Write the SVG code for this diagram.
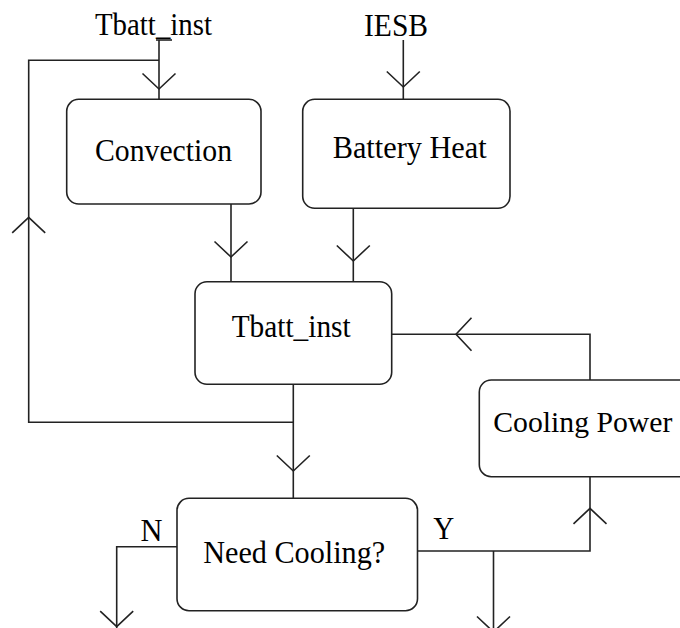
<svg xmlns="http://www.w3.org/2000/svg" xmlns:xlink="http://www.w3.org/1999/xlink" width="680" height="628" viewBox="0 0 680 628">
<style>
  .box { fill: #ffffff; stroke: #222222; stroke-width: 1.6; }
  .wire { fill: none; stroke: #222222; stroke-width: 1.6; }
  .lbl { font-family: 'Liberation Serif', 'DejaVu Serif', serif; font-size: 32px; fill: #000000; }
</style>
<defs>
  <path id="ah" d="M-16.5,-15.5 L0,0 L16.5,-15.5" fill="none" stroke="#222222" stroke-width="1.6"/>
</defs>
<rect width="680" height="628" fill="#ffffff"/>

<g id="connectors">
  <path class="wire" d="M156,40 H172"/>
  <path class="wire" d="M159,40 V99.3"/>
  <use xlink:href="#ah" href="#ah" transform="translate(159,89)"/>
  <path class="wire" d="M293.3,422.3 H28.7 V60.3 H159"/>
  <use xlink:href="#ah" href="#ah" transform="translate(28.7,217.3) rotate(180)"/>
  <path class="wire" d="M403.3,40 V99.3"/>
  <use xlink:href="#ah" href="#ah" transform="translate(403.3,87)"/>
  <path class="wire" d="M231,204 V281.7"/>
  <use xlink:href="#ah" href="#ah" transform="translate(231,257)"/>
  <path class="wire" d="M353.3,208.3 V281.7"/>
  <use xlink:href="#ah" href="#ah" transform="translate(353.3,261)"/>
  <path class="wire" d="M293.3,384.3 V498.3"/>
  <use xlink:href="#ah" href="#ah" transform="translate(293.3,471)"/>
  <path class="wire" d="M590,380 V334.3 H391.7"/>
  <use xlink:href="#ah" href="#ah" transform="translate(456,334.3) rotate(90)"/>
  <path class="wire" d="M177,546.7 H116.7 V640"/>
  <use xlink:href="#ah" href="#ah" transform="translate(116.7,626.7)"/>
  <path class="wire" d="M417.5,551 H590 V476.7"/>
  <use xlink:href="#ah" href="#ah" transform="translate(590,508.3) rotate(180)"/>
  <path class="wire" d="M493.5,551 V640"/>
  <use xlink:href="#ah" href="#ah" transform="translate(493.5,632)"/>
</g>

<g id="label-tbatt-in">
  <text class="lbl" x="95" y="35" textLength="117" lengthAdjust="spacingAndGlyphs">Tbatt_inst</text>
</g>
<g id="label-iesb">
  <text class="lbl" x="364" y="36" textLength="64" lengthAdjust="spacingAndGlyphs">IESB</text>
</g>

<g id="node-convection">
  <rect class="box" x="66.7" y="99.3" width="194.3" height="104.7" rx="12" ry="12"/>
  <text class="lbl" x="95" y="161" textLength="137" lengthAdjust="spacingAndGlyphs">Convection</text>
</g>

<g id="node-battery-heat">
  <rect class="box" x="302.7" y="99.3" width="207.3" height="109" rx="12" ry="12"/>
  <text class="lbl" x="332.7" y="158.3" textLength="154" lengthAdjust="spacingAndGlyphs">Battery Heat</text>
</g>

<g id="node-tbatt-inst">
  <rect class="box" x="195" y="281.7" width="196.7" height="102.6" rx="12" ry="12"/>
  <text class="lbl" x="231.7" y="336.7" textLength="119" lengthAdjust="spacingAndGlyphs">Tbatt_inst</text>
</g>

<g id="node-cooling-power">
  <rect class="box" x="479.3" y="380" width="215" height="96.7" rx="12" ry="12"/>
  <text class="lbl" x="493.3" y="431.7" font-size="29.5" style="font-size:29.5px" textLength="179" lengthAdjust="spacingAndGlyphs">Cooling Power</text>
</g>

<g id="node-need-cooling">
  <rect class="box" x="177" y="498.3" width="240.5" height="112.4" rx="12" ry="12"/>
  <text class="lbl" x="203.2" y="562.7" textLength="182" lengthAdjust="spacingAndGlyphs">Need Cooling?</text>
</g>

<g id="label-n">
  <text class="lbl" x="140.5" y="540.7" textLength="22" lengthAdjust="spacingAndGlyphs">N</text>
</g>
<g id="label-y">
  <text class="lbl" x="433.3" y="538.5" textLength="21" lengthAdjust="spacingAndGlyphs">Y</text>
</g>
</svg>
